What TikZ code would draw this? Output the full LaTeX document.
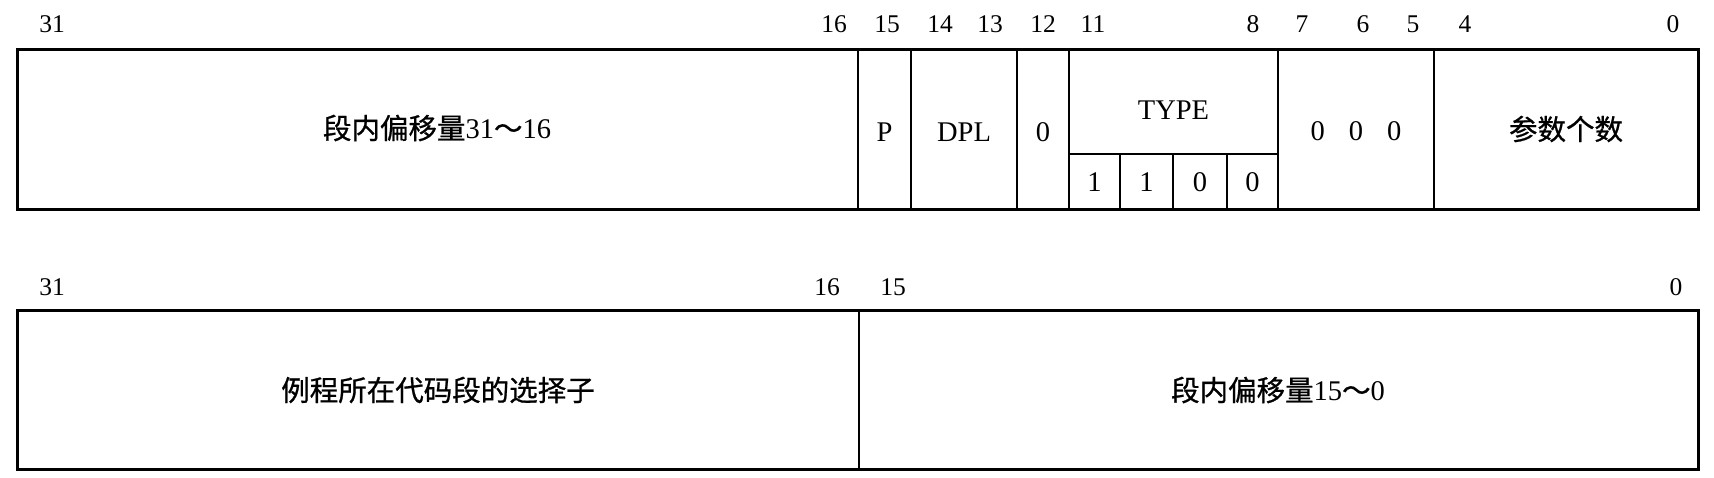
\documentclass[tikz,border=0pt]{standalone}
\usepackage{fontspec}
\setmainfont{Liberation Serif}
\newfontfamily\cjk[FakeBold=0.8]{Noto Sans CJK SC}
\begin{document}
\begin{tikzpicture}[x=1pt,y=-1pt,
  bitlbl/.style={font=\fontsize{25.5}{30}\selectfont, inner sep=0pt},
  cell/.style={font=\fontsize{28.5}{34}\selectfont, inner sep=0pt},
  outerline/.style={line width=3pt},
  innerline/.style={line width=2pt}]
\useasboundingbox[fill=white] (0,0) rectangle (1714,477);
% top row frame
\draw[outerline] (17,49) rectangle (1698,209);
\foreach \x in {858,911,1017,1069,1278,1434} \draw[innerline] (\x,49) -- (\x,209);
\draw[innerline] (1069,154) -- (1278,154);
\foreach \x in {1120,1173,1227} \draw[innerline] (\x,154) -- (\x,209);
% bottom row frame
\draw[outerline] (17,310) rectangle (1698,469);
\draw[innerline] (859,310) -- (859,469);
% top bit labels
\node[bitlbl] (b31) at (52,24) {31};
\node[bitlbl] (b16) at (834,24) {16};
\node[bitlbl] (b15) at (887,24) {15};
\node[bitlbl] (b14) at (940,24) {14};
\node[bitlbl] (b13) at (990,24) {13};
\node[bitlbl] (b12) at (1043,24) {12};
\node[bitlbl] (b11) at (1093,24) {11};
\node[bitlbl] (b8) at (1253,24) {8};
\node[bitlbl] (b7) at (1302,24) {7};
\node[bitlbl] (b6) at (1363,24) {6};
\node[bitlbl] (b5) at (1413,24) {5};
\node[bitlbl] (b4) at (1465,24) {4};
\node[bitlbl] (b0) at (1673,24) {0};
% bottom bit labels
\node[bitlbl] (c31) at (52,287) {31};
\node[bitlbl] (c16) at (827,287) {16};
\node[bitlbl] (c15) at (893,287) {15};
\node[bitlbl] (c0) at (1676,287) {0};
% top row cells
\node[cell] (offhi) at (437,128) {{\cjk 段内偏移量}31{\cjk ～}16};
\node[cell] (p) at (884.5,132) {P};
\node[cell] (dpl) at (964,132) {DPL};
\node[cell] (z12) at (1043,132) {0};
\node[cell] (type) at (1173.5,110) {TYPE};
\node[cell] (t11) at (1094.5,182) {1};
\node[cell] (t10) at (1146.5,182) {1};
\node[cell] (t9) at (1200,182) {0};
\node[cell] (t8) at (1252.5,182) {0};
\node[cell] (zeros) at (1356,131) {0\hspace{24pt}0\hspace{24pt}0};
\node[cell] (pcount) at (1566,129) {\cjk 参数个数};
% bottom row cells
\node[cell] (sel) at (438,390) {\cjk 例程所在代码段的选择子};
\node[cell] (offlo) at (1278,390) {{\cjk 段内偏移量}15{\cjk ～}0};
\end{tikzpicture}
\end{document}
